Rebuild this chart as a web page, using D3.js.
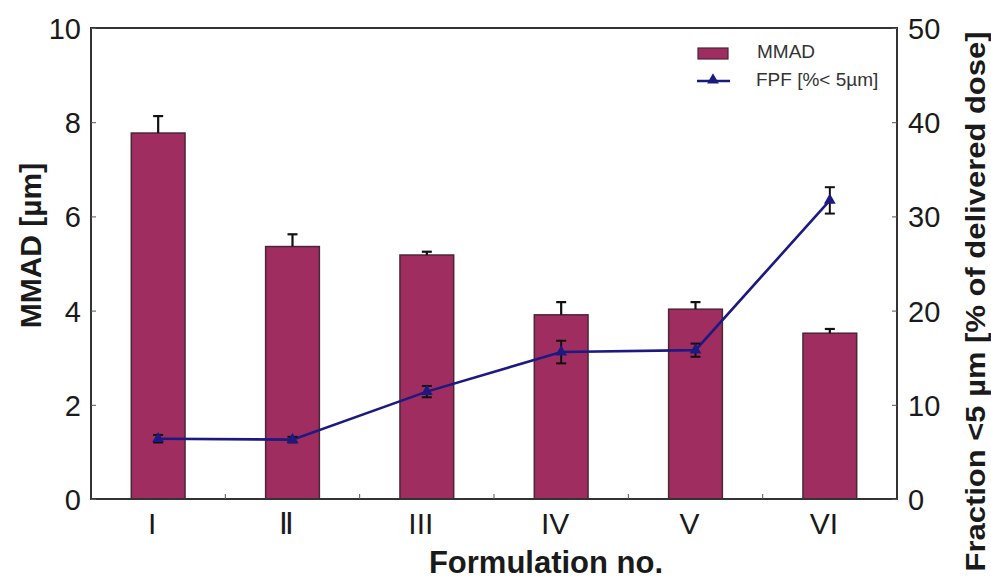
<!DOCTYPE html>
<html>
<head>
<meta charset="utf-8">
<script src="https://cdn.jsdelivr.net/npm/d3@7"></script>
<style>
  body { margin: 0; background: #fff; }
  svg text { font-family: Arial, "Liberation Sans", sans-serif; fill: #1a1a1a; }
</style>
</head>
<body>
<svg id="chart" width="991" height="582"></svg>
<script>
// values
const formulations = ["I", "Ⅱ", "III", "IV", "V", "VI"];
const mmad = [7.77, 5.36, 5.18, 3.91, 4.03, 3.52];
const mmadErr = [0.36, 0.26, 0.07, 0.27, 0.15, 0.09];
const fpf = [6.4, 6.3, 11.4, 15.6, 15.8, 31.7];
const fpfErr = [0.4, 0.3, 0.6, 1.2, 0.7, 1.4];
const leftTicks = [0, 2, 4, 6, 8, 10];
const rightTicks = [0, 10, 20, 30, 40, 50];

const barColor = "#a02d60";
const lineColor = "#1c1a82";

const svg = d3.select("#chart");
const margin = { top: 28, right: 94, bottom: 83, left: 91 };
const width = 991 - margin.left - margin.right;
const height = 582 - margin.top - margin.bottom;

const g = svg.append("g").attr("transform", `translate(${margin.left},${margin.top})`);

const x = d3.scaleBand().domain(formulations).range([0, width]).paddingInner(0.6).paddingOuter(0.3);
const yL = d3.scaleLinear().domain([0, 10]).range([height, 0]);
const yR = d3.scaleLinear().domain([0, 50]).range([height, 0]);

const rows = formulations.map((f, i) => ({ f, m: mmad[i], me: mmadErr[i], p: fpf[i], pe: fpfErr[i] }));

// bars
g.selectAll("rect.bar")
  .data(rows)
  .enter()
  .append("rect")
    .attr("class", "bar")
    .attr("x", d => x(d.f))
    .attr("y", d => yL(d.m))
    .attr("width", x.bandwidth())
    .attr("height", d => height - yL(d.m))
    .attr("fill", barColor)
    .attr("stroke", "#4a2636")
    .attr("stroke-width", 1.5);

// bar error bars (upper only)
const cx = d => x(d.f) + x.bandwidth() / 2;
const barErr = g.append("g").attr("stroke", "#111").attr("stroke-width", 2.2);
barErr.selectAll("line.v")
  .data(rows).enter().append("line")
    .attr("x1", cx).attr("x2", cx)
    .attr("y1", d => yL(d.m)).attr("y2", d => yL(d.m + d.me));
barErr.selectAll("line.c")
  .data(rows).enter().append("line")
    .attr("x1", d => cx(d) - 5).attr("x2", d => cx(d) + 5)
    .attr("y1", d => yL(d.m + d.me)).attr("y2", d => yL(d.m + d.me));

// FPF line
const line = d3.line().x(cx).y(d => yR(d.p));
g.append("path")
  .datum(rows)
  .attr("d", line)
  .attr("fill", "none")
  .attr("stroke", lineColor)
  .attr("stroke-width", 2.6);

// FPF error bars
const lineErr = g.append("g").attr("stroke", "#111").attr("stroke-width", 2);
lineErr.selectAll("line.v")
  .data(rows).enter().append("line")
    .attr("x1", cx).attr("x2", cx)
    .attr("y1", d => yR(d.p - d.pe)).attr("y2", d => yR(d.p + d.pe));
lineErr.selectAll("line.t")
  .data(rows).enter().append("line")
    .attr("x1", d => cx(d) - 5).attr("x2", d => cx(d) + 5)
    .attr("y1", d => yR(d.p + d.pe)).attr("y2", d => yR(d.p + d.pe));
lineErr.selectAll("line.b")
  .data(rows).enter().append("line")
    .attr("x1", d => cx(d) - 5).attr("x2", d => cx(d) + 5)
    .attr("y1", d => yR(d.p - d.pe)).attr("y2", d => yR(d.p - d.pe));

// triangle markers
const tri = d3.symbol().type(d3.symbolTriangle).size(60);
g.selectAll("path.mark")
  .data(rows).enter().append("path")
    .attr("class", "mark")
    .attr("d", tri)
    .attr("transform", d => `translate(${cx(d)},${yR(d.p)})`)
    .attr("fill", lineColor);

// frame
g.append("rect")
  .attr("width", width).attr("height", height)
  .attr("fill", "none").attr("stroke", "#333").attr("stroke-width", 2);

// left axis
const axL = g.append("g")
  .call(d3.axisLeft(yL).tickValues(leftTicks).tickSize(-5).tickPadding(10));
axL.select(".domain").remove();
axL.selectAll("line").attr("stroke", "#555");
axL.selectAll("text").style("font-size", "29px").attr("dy", "0.36em");

// right axis
const axR = g.append("g").attr("transform", `translate(${width},0)`)
  .call(d3.axisRight(yR).tickValues(rightTicks).tickSize(-5).tickPadding(11));
axR.select(".domain").remove();
axR.selectAll("line").attr("stroke", "#555");
axR.selectAll("text").style("font-size", "29px").attr("dy", "0.36em");

// bottom axis: labels under bars, ticks at band boundaries
const axB = g.append("g").attr("transform", `translate(0,${height})`)
  .call(d3.axisBottom(x).tickSize(0).tickPadding(12));
axB.select(".domain").remove();
axB.selectAll("text").style("font-size", "30px").attr("dx", "-6").attr("dy", "0.75em");
const step = x.step();
g.append("g").selectAll("line")
  .data(formulations.slice(1)).enter().append("line")
    .attr("x1", d => x(d) - step * 0.3).attr("x2", d => x(d) - step * 0.3)
    .attr("y1", height).attr("y2", height - 5)
    .attr("stroke", "#555");

// axis titles
svg.append("text")
  .attr("transform", `translate(41,${margin.top + height / 2 - 18}) rotate(-90)`)
  .attr("text-anchor", "middle")
  .style("font-size", "30px").style("font-weight", "bold")
  .text("MMAD [µm]");

svg.append("text")
  .attr("transform", `translate(985,${margin.top + height / 2 + 38}) rotate(-90)`)
  .attr("text-anchor", "middle")
  .attr("textLength", 540).attr("lengthAdjust", "spacingAndGlyphs")
  .style("font-size", "28px").style("font-weight", "bold")
  .text("Fraction <5 µm [% of delivered dose]");

svg.append("text")
  .attr("x", 546).attr("y", 573)
  .attr("text-anchor", "middle")
  .style("font-size", "31px").style("font-weight", "bold")
  .text("Formulation no.");

// legend
const lg = svg.append("g");
lg.append("rect")
  .attr("x", 698).attr("y", 48).attr("width", 30).attr("height", 11)
  .attr("fill", barColor).attr("stroke", "#4a2636").attr("stroke-width", 1.2);
lg.append("text").attr("x", 757).attr("y", 58).style("font-size", "19px").style("fill", "#333").text("MMAD");
lg.append("line")
  .attr("x1", 697).attr("x2", 730).attr("y1", 81).attr("y2", 81)
  .attr("stroke", lineColor).attr("stroke-width", 2.6);
lg.append("path").attr("d", tri).attr("transform", "translate(713,80)").attr("fill", lineColor);
lg.append("text").attr("x", 756).attr("y", 86).style("font-size", "19px").style("fill", "#333").text("FPF [%< 5µm]");
</script>
</body>
</html>
